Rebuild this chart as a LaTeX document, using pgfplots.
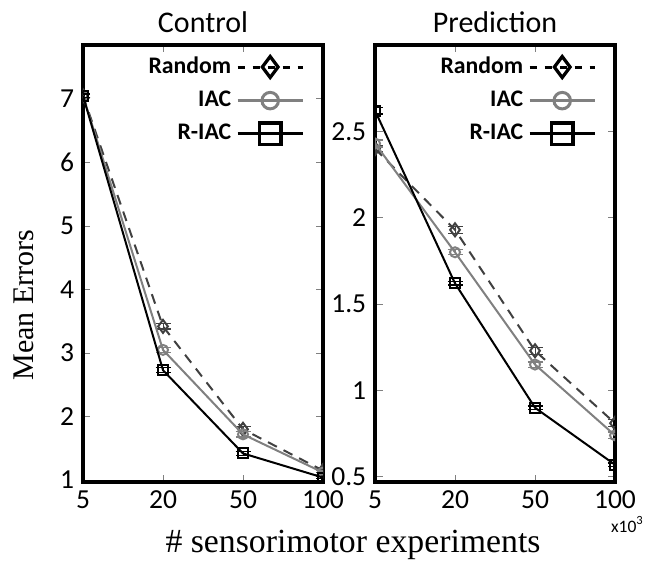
\documentclass[border=0pt]{standalone}
\usepackage{fontspec}
\usepackage{pgfplots}
\pgfplotsset{compat=1.18}
\newfontfamily\carlito{Carlito}
\newfontfamily\tnr{Liberation Serif}

\pgfplotsset{
  panel/.style={
    scale only axis, width=96pt, height=174.8pt,
    xmin=0, xmax=3, xtick={0,1,2,3}, xticklabels={5,20,50,100},
    axis line style={line width=1.6pt},
    tick style={gray, line width=0.4pt}, major tick length=3pt,
    tick align=inside,
    ticklabel style={font=\carlito\fontsize{11}{13}\selectfont},
    /pgf/number format/assume math mode=true,
    every axis title shift=0pt,
    title style={font=\carlito\fontsize{12}{14}\selectfont,
      at={(rel axis cs:0.5,1)}, anchor=center, yshift=9.2pt},
    legend style={draw=none, fill=none, at={(rel axis cs:0.955,0.997)},
      anchor=north east, font=\carlito\bfseries\fontsize{9.5}{11}\selectfont,
      row sep=1.5pt, cells={anchor=east}},
    legend plot pos=right,
    legend image code/.code={
      \draw[mark repeat=2, mark phase=2, #1]
        plot coordinates {(0pt,0pt) (13pt,0pt) (26pt,0pt)};},
    clip marker paths=true,
    error bars/y dir=both, error bars/y explicit,
    error bars/error mark options={rotate=90, mark size=3pt, line width=0.5pt},
  },
  rnd/.style={black!75, line width=0.8pt, dash pattern=on 4pt off 3pt,
    mark=diamond, mark size=2.6pt, mark options={solid},
    error bars/error bar style={solid}},
  iac/.style={gray, line width=0.8pt, mark=o, mark size=2pt},
  riac/.style={black, line width=0.8pt, mark=square, mark size=2pt},
}

\begin{document}
\begin{tikzpicture}
\path[use as bounding box] (-33.2pt,-31.6pt) rectangle (225.2pt,192.8pt);

% Control
\begin{axis}[panel, ymin=0.97, ymax=7.85, ytick={1,2,...,7},
  title={Control},
  ylabel={Mean Errors},
  ylabel style={font=\tnr\fontsize{12}{14}\selectfont, at={(rel axis cs:-0.246,0.405)}, anchor=center},
  xlabel={\# sensorimotor experiments},
  xlabel style={font=\tnr\fontsize{13.5}{15}\selectfont, at={(rel axis cs:1.125,-0.144)}, anchor=center}]
\addlegendimage{black, line width=1.2pt, dash pattern=on 3pt off 3pt,
  mark=diamond, mark size=4.2pt, mark options={solid, line width=1.3pt}}
\addlegendentry{Random}
\addlegendimage{gray, line width=1pt, mark=o, mark size=3.3pt, mark options={line width=1.2pt}}
\addlegendentry{IAC}
\addlegendimage{black, line width=1.2pt, mark=square, mark size=4.3pt, mark options={line width=1.3pt}}
\addlegendentry{R-IAC}
\addplot[rnd, forget plot] coordinates {(0,7.05) +- (0,0.03) (1,3.42) +- (0,0.04) (2,1.80) +- (0,0.04) (3,1.15) +- (0,0.03)};
\addplot[iac, forget plot] coordinates {(0,7.05) +- (0,0.03) (1,3.05) +- (0,0.04) (2,1.72) +- (0,0.04) (3,1.12) +- (0,0.03)};
\addplot[riac, forget plot] coordinates {(0,7.05) +- (0,0.03) (1,2.73) +- (0,0.04) (2,1.42) +- (0,0.03) (3,1.04) +- (0,0.02)};
\end{axis}

% Prediction
\begin{axis}[panel, name=pred, xshift=116.8pt, ymin=0.47, ymax=3.0,
  ytick={0.5,1,1.5,2,2.5}, title={Prediction}]
\addlegendimage{black, line width=1.2pt, dash pattern=on 3pt off 3pt,
  mark=diamond, mark size=4.2pt, mark options={solid, line width=1.3pt}}
\addlegendentry{Random}
\addlegendimage{gray, line width=1pt, mark=o, mark size=3.3pt, mark options={line width=1.2pt}}
\addlegendentry{IAC}
\addlegendimage{black, line width=1.2pt, mark=square, mark size=4.3pt, mark options={line width=1.3pt}}
\addlegendentry{R-IAC}
\addplot[rnd, forget plot] coordinates {(0,2.40) +- (0,0.02) (1,1.93) +- (0,0.02) (2,1.23) +- (0,0.02) (3,0.81) +- (0,0.02)};
\addplot[iac, forget plot] coordinates {(0,2.43) +- (0,0.02) (1,1.80) +- (0,0.015) (2,1.15) +- (0,0.015) (3,0.74) +- (0,0.02)};
\addplot[riac, forget plot] coordinates {(0,2.62) +- (0,0.02) (1,1.62) +- (0,0.01) (2,0.90) +- (0,0.01) (3,0.57) +- (0,0.01)};
\end{axis}
\node[font=\carlito\fontsize{7}{8}\selectfont, anchor=center]
  at ([xshift=5pt, yshift=-17pt]pred.south east) {x10\textsuperscript{3}};
\end{tikzpicture}
\end{document}
